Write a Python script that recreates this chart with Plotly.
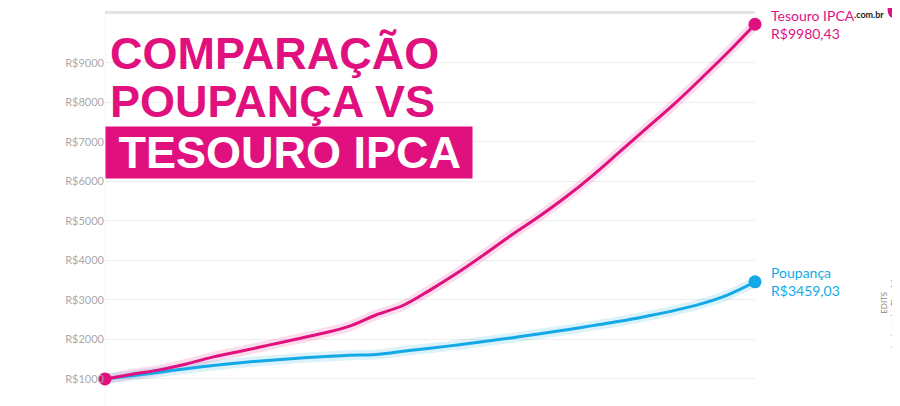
import plotly.graph_objs as go

anos = [f"{y}-01-01" for y in range(2000, 2025)]
tesouro = [1000, 1120, 1230, 1380, 1560, 1700, 1850, 2000, 2150, 2330, 2620, 2860, 3250,
           3680, 4150, 4640, 5100, 5600, 6150, 6750, 7350, 7950, 8600, 9270, 9980.43]
poupanca = [1000, 1080, 1170, 1260, 1340, 1410, 1470, 1520, 1560, 1600, 1620, 1700, 1780,
            1860, 1950, 2040, 2140, 2240, 2350, 2460, 2590, 2730, 2900, 3130, 3459.03]
yticks = list(range(1000, 10000, 1000))

MAG = "#e0117f"
AZUL = "#13a9e6"

fig = go.Figure()
# glow behind lines
fig.add_trace(go.Scatter(x=anos, y=tesouro, mode="lines", line=dict(color="rgba(224,17,127,0.15)", width=10, shape="spline"), hoverinfo="skip"))
fig.add_trace(go.Scatter(x=anos, y=poupanca, mode="lines", line=dict(color="rgba(19,169,230,0.15)", width=10, shape="spline"), hoverinfo="skip"))
fig.add_trace(go.Scatter(x=anos, y=poupanca, mode="lines", line=dict(color=AZUL, width=3, shape="spline")))
fig.add_trace(go.Scatter(x=anos, y=tesouro, mode="lines", line=dict(color=MAG, width=3, shape="spline")))
fig.add_trace(go.Scatter(x=[anos[-1]], y=[poupanca[-1]], mode="markers", marker=dict(color=AZUL, size=13), cliponaxis=False))
fig.add_trace(go.Scatter(x=[anos[0], anos[-1]], y=[tesouro[0], tesouro[-1]], mode="markers", marker=dict(color=MAG, size=13), cliponaxis=False))

fig.add_annotation(x=anos[-1], y=tesouro[-1], text="Tesouro IPCA<br>R$9980,43", showarrow=False,
                   xanchor="left", xshift=14, yshift=0, align="left", font=dict(color=MAG, size=14, family="Lato"))
fig.add_annotation(x=anos[-1], y=poupanca[-1], text="Poupança<br>R$3459,03", showarrow=False,
                   xanchor="left", xshift=14, yshift=0, align="left", font=dict(color=AZUL, size=14, family="Lato"))

titulo = dict(family="Liberation Sans Narrow, Arial Narrow, sans-serif", size=45, color=MAG, weight="bold")
fig.add_annotation(xref="paper", yref="paper", x=0.0, y=0.9, xanchor="left", yanchor="middle", showarrow=False,
                   text="COMPARAÇÃO", font=titulo, xshift=3)
fig.add_annotation(xref="paper", yref="paper", x=0.0, y=0.781, xanchor="left", yanchor="middle", showarrow=False,
                   text="POUPANÇA VS", font=titulo, xshift=3)
fig.add_annotation(xref="paper", yref="paper", x=0.0, y=0.653, xanchor="left", yanchor="middle", showarrow=False,
                   text=" TESOURO IPCA ", font=dict(titulo, color="white"),
                   bgcolor=MAG, borderpad=0, xshift=0)

fig.add_annotation(xref="paper", yref="paper", x=1.2, y=1.015, xanchor="right", yanchor="top", showarrow=False,
                   text="<b>.com.br</b>", font=dict(size=9, color="#222", family="Lato"), borderpad=0)
fig.add_shape(type="circle", xref="paper", yref="paper", x0=1.204, x1=1.222, y0=0.99, y1=1.03, fillcolor=MAG, line_width=0)
fig.add_annotation(xref="paper", yref="paper", x=1.224, y=0.16, showarrow=False, textangle=-90,
                   text="EDITS<br>le charts by <b>Flourish team</b>", font=dict(size=8, color="#888", family="Lato"))

fig.update_layout(
    width=900, height=406, showlegend=False,
    margin=dict(l=97, r=153, t=6, b=0, autoexpand=False),
    paper_bgcolor="white", plot_bgcolor="white",
    xaxis=dict(side="top", range=[anos[0], anos[-1]], dtick="M12", tickformat="01/%Y", tickangle=-45,
               showgrid=False, tickfont=dict(size=10, color="#bbb"), zeroline=False, automargin=False,
               showline=True, linecolor="#e4e4e4", linewidth=3),
    yaxis=dict(range=[113, 10240], tickvals=yticks, ticktext=[f"R${v}" for v in yticks], automargin=False,
               gridcolor="#eeeeee", tickfont=dict(size=11, color="#aaa", family="Lato"), zeroline=False),
    font=dict(family="Lato"),
)
fig.add_shape(type="line", xref="x", yref="paper", x0=anos[0], x1=anos[0], y0=0, y1=1, line=dict(color="#eee", width=1), layer="below")

fig.write_html("out.html")
